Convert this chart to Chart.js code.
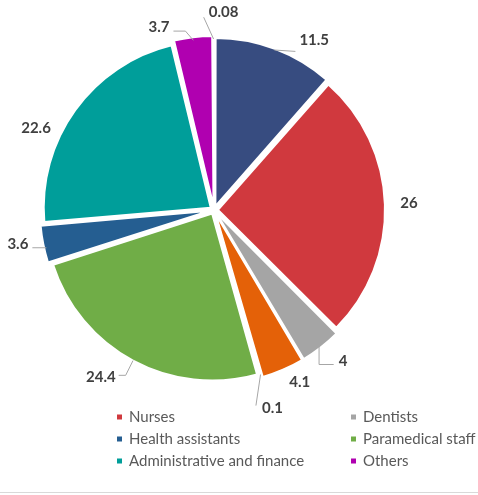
<!DOCTYPE html>
<html>
<head>
<meta charset="utf-8">
<script src="https://cdn.jsdelivr.net/npm/chart.js@4.4.1/dist/chart.umd.min.js"></script>
<style>
  html, body { margin: 0; padding: 0; background: #fff; }
</style>
</head>
<body>
<canvas id="myChart" width="478" height="495"></canvas>
<script>
// slices, clockwise from 12 o'clock (unnamed ones are not in the legend)
var categories = ['', 'Nurses', 'Dentists', '', '', 'Paramedical staff', 'Health assistants',
                  'Administrative and finance', 'Others', ''];
var values = [11.5, 26, 4, 4.1, 0.1, 24.4, 3.6, 22.6, 3.7, 0.08];
var valueLabels = ['11.5', '26', '4', '4.1', '0.1', '24.4', '3.6', '22.6', '3.7', '0.08'];
var colors = ['#374C80', '#D0393E', '#A5A5A5', '#E46108', '#5B9BD5', '#70AD47', '#255E91',
              '#009E9A', '#B000B0', '#264478'];
var legendOrder = [1, 2, 6, 5, 7, 8];

// label placement: angle nudge (deg) from slice middle, and distance past the rim
var labelAngle = [9.9, 0, -2.5, -3.2, -0.6, 5.8, 1.6, -11, -9.8, 2.9];
var labelDist = [30, 28, 32, 25, 40, 35, 32, 29, 24, 31];

var labelFont = 'bold 15px Lato';
var legendFont = '15px Lato';

function rimPoint(arc, extra) {
    var mid = (arc.startAngle + arc.endAngle) / 2;
    var r = arc.outerRadius + 4 + (extra || 0);
    return {x: arc.x + Math.cos(mid) * r, y: arc.y + Math.sin(mid) * r};
}

var pieLabels = {
    id: 'pieLabels',
    afterDatasetsDraw: function (chart) {
        var ctx = chart.ctx;
        var arcs = chart.getDatasetMeta(0).data;
        ctx.save();
        ctx.font = labelFont;
        ctx.textAlign = 'center';
        ctx.textBaseline = 'middle';
        ctx.strokeStyle = '#A6A6A6';
        ctx.lineWidth = 1;
        arcs.forEach(function (arc, i) {
            var mid = (arc.startAngle + arc.endAngle) / 2 + labelAngle[i] * Math.PI / 180;
            var d = arc.outerRadius + labelDist[i];
            var lx = arc.x + Math.cos(mid) * d;
            var ly = arc.y + Math.sin(mid) * d;
            var w = ctx.measureText(valueLabels[i]).width;
            var left = lx - w / 2, right = lx + w / 2;
            var e = rimPoint(arc);
            var pts = null;
            if (i === 0) pts = [e, {x: left - 4, y: ly + 11}];
            if (i === 2) pts = [e, {x: e.x, y: ly + 3}, {x: left - 5, y: ly + 3}];
            if (i === 4) pts = [e, {x: left - 6, y: ly - 3}];
            if (i === 5) pts = [e, {x: right + 10, y: ly - 2}, {x: right + 3, y: ly - 2}];
            if (i === 6) pts = [{x: e.x, y: ly + 4}, {x: right + 4, y: ly + 4}];
            if (i === 8) pts = [e, {x: right + 16, y: ly + 4}, {x: right + 4, y: ly + 4}];
            if (i === 9) pts = [e, {x: left - 5, y: ly + 5}];
            if (pts) {
                ctx.beginPath();
                ctx.moveTo(pts[0].x, pts[0].y);
                for (var k = 1; k < pts.length; k++) ctx.lineTo(pts[k].x, pts[k].y);
                ctx.stroke();
            }
            ctx.fillStyle = '#404040';
            ctx.fillText(valueLabels[i], lx, ly);
        });
        ctx.restore();
    }
};

// two-column legend under the pie
var sideLegend = {
    id: 'sideLegend',
    afterDraw: function (chart) {
        var ctx = chart.ctx;
        ctx.save();
        ctx.font = legendFont;
        ctx.textBaseline = 'middle';
        ctx.textAlign = 'left';
        var colX = [117, 351];
        var rowY = 417, rowGap = 22;
        legendOrder.forEach(function (idx, n) {
            var x = colX[n % 2];
            var y = rowY + Math.floor(n / 2) * rowGap;
            ctx.fillStyle = colors[idx];
            ctx.fillRect(x, y - 2.5, 5, 5);
            ctx.fillStyle = '#595959';
            ctx.fillText(categories[idx], x + 12, y);
        });
        ctx.strokeStyle = '#D9D9D9';
        ctx.lineWidth = 1;
        ctx.beginPath();
        ctx.moveTo(0, 492.5);
        ctx.lineTo(chart.width, 492.5);
        ctx.stroke();
        ctx.restore();
    }
};

var chart1 = new Chart(document.getElementById('myChart').getContext('2d'), {
    type: 'pie',
    data: {
        labels: categories,
        datasets: [{
            data: values,
            backgroundColor: colors,
            borderColor: '#FFFFFF',
            borderWidth: 2,
            offset: 16,
            hoverOffset: 0
        }]
    },
    options: {
        responsive: false,
        animation: false,
        layout: {padding: {top: 34, bottom: 109, left: 0, right: 50}},
        plugins: {
            legend: {display: false},
            tooltip: {enabled: false}
        }
    },
    plugins: [pieLabels, sideLegend]
});
</script>
</body>
</html>
